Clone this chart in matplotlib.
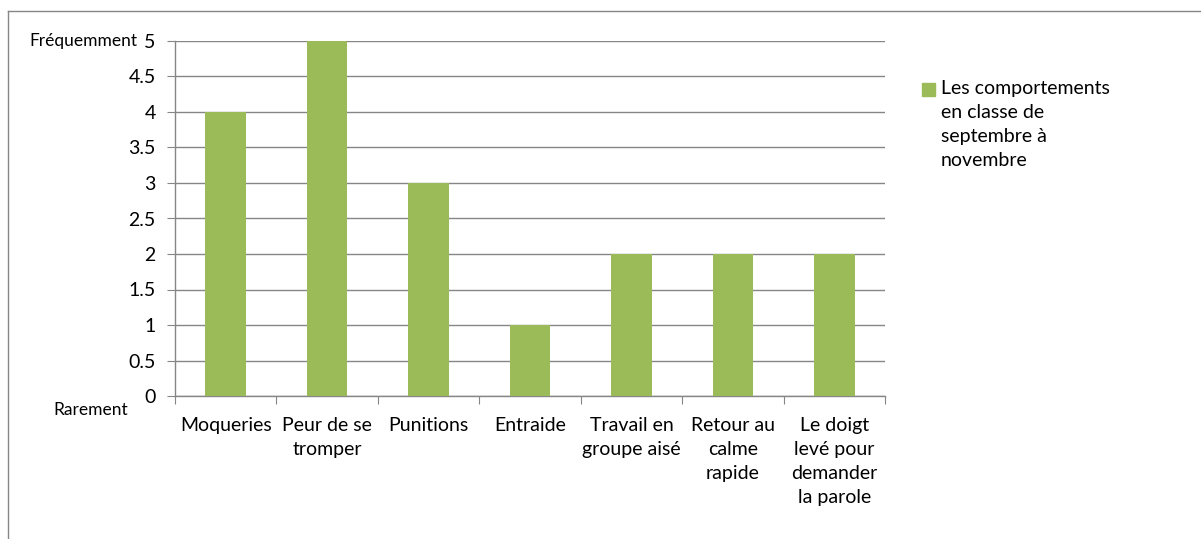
import matplotlib.pyplot as plt
from matplotlib.patches import Rectangle
from matplotlib.lines import Line2D

categories = ["Moqueries", "Peur de se\ntromper", "Punitions", "Entraide",
              "Travail en\ngroupe aisé", "Retour au\ncalme\nrapide",
              "Le doigt\nlevé pour\ndemander\nla parole"]
values = [4, 5, 3, 1, 2, 2, 2]
yticks = [0, 0.5, 1, 1.5, 2, 2.5, 3, 3.5, 4, 4.5, 5]
ytick_labels = ["0", "0.5", "1", "1.5", "2", "2.5", "3", "3.5", "4", "4.5", "5"]
series_name = "Les comportements\nen classe de\nseptembre à\nnovembre"

plt.rcParams['font.family'] = ['Lato', 'DejaVu Sans']
W, H = 1201, 539
fig = plt.figure(figsize=(W / 100, H / 100), dpi=100)
fig.patch.set_facecolor("white")

# chart-area frame (left and top edges visible)
fig.add_artist(Line2D([8 / W, 8 / W], [0, 1 - 11 / H], color="#868686", lw=1))
fig.add_artist(Line2D([8 / W, 1], [1 - 11 / H, 1 - 11 / H], color="#868686", lw=1))

ax = fig.add_axes([175 / W, 143 / H, 710 / W, 355 / H])
x = range(len(values))
ax.bar(x, values, width=0.4, color="#9BBB59", zorder=3)
ax.set_xlim(-0.5, len(values) - 0.5)
ax.set_ylim(0, 5)

ax.set_yticks(yticks)
ax.set_yticklabels(ytick_labels, fontsize=14, color="#000000")
ax.yaxis.grid(True, color="#868686", lw=1, zorder=0)
ax.tick_params(axis="y", length=6, color="#868686", pad=8)

ax.set_xticks([i - 0.5 for i in range(len(values) + 1)])
ax.set_xticklabels([])
ax.set_xticks(list(x), minor=True)
ax.set_xticklabels(categories, minor=True, fontsize=14, linespacing=1.5,
                   ha="center", va="top")
ax.tick_params(axis="x", which="major", length=6, color="#868686")
ax.tick_params(axis="x", which="minor", length=0, pad=15)

for s in ["top", "right"]:
    ax.spines[s].set_visible(False)
for s in ["left", "bottom"]:
    ax.spines[s].set_color("#868686")
    ax.spines[s].set_linewidth(1)

fig.text(137 / W, 1 - 41 / H, "Fréquemment", fontsize=12.5, ha="right", va="center")
fig.text(128 / W, 1 - 410 / H, "Rarement", fontsize=12.5, ha="right", va="center")

# legend
fig.add_artist(Rectangle((922 / W, 1 - 96 / H), 13 / W, 13 / H,
                         color="#9BBB59", transform=fig.transFigure))
fig.text(941 / W, 1 - 80 / H, series_name, fontsize=14, ha="left", va="top",
         linespacing=1.5)

fig.savefig("out.png", dpi=100)
